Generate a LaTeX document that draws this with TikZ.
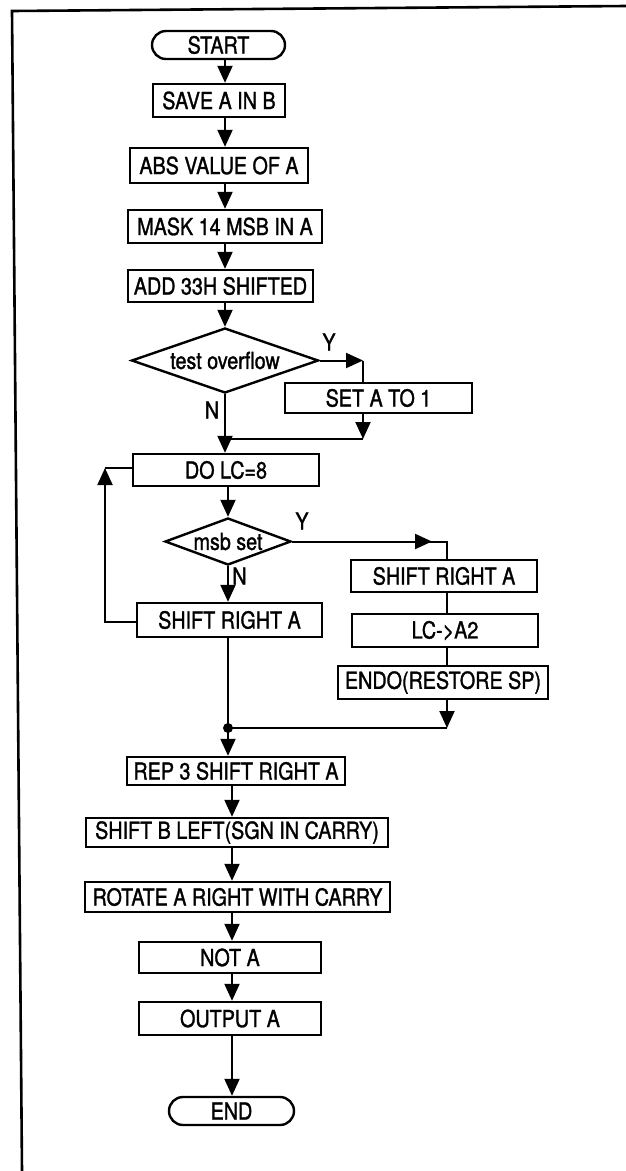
\documentclass[tikz,border=0pt]{standalone}
\usepackage{fontspec}
\setmainfont[FakeStretch=0.84, FakeBold=1.3]{TeX Gyre Heros}
\usepackage{tikz}
\usetikzlibrary{shapes.geometric, arrows.meta, positioning, calc}
\newcommand\flowfont{\fontsize{23.5}{26}\selectfont}
\tikzset{
  box/.style={draw, line width=2.4pt, inner sep=0pt, font=\flowfont},
  term/.style={box, rounded corners=14pt},
  decision/.style={draw, diamond, line width=2.4pt, inner sep=0pt, font=\flowfont},
  lbl/.style={font=\flowfont, inner sep=0pt},
  wire/.style={line width=2pt},
  arr/.style={line width=2pt, -{Triangle[length=17pt,width=15pt]}},
  frame/.style={line width=2.6pt}
}

\begin{document}
\begin{tikzpicture}[x=1pt, y=-1pt]
        \useasboundingbox (0,0) rectangle (626,1171);
        % Frame (only top and left edges show)
        \draw[frame] (22,1171) -- (12,11) -- (626,6);
        % Column lines
        \coordinate (colA) at (225,0);
        \coordinate (colB) at (228,0);
        \coordinate (colC) at (232,0);
        % Main chain
        \node[term, minimum width=133, minimum height=28] (start) at (218.5,45) {START};
        \node[box, minimum width=132, minimum height=33] (save) at (219,100.5) {SAVE A IN B};
        \node[box, minimum width=178, minimum height=35] (abs) at (219,165.5) {ABS VALUE OF A};
        \node[box, minimum width=194, minimum height=33] (mask) at (225,226.5) {MASK 14 MSB IN A};
        \node[box, minimum width=185, minimum height=32] (add) at (220.5,286) {ADD 33H SHIFTED};
        \node[decision, aspect=2.88, minimum width=187, minimum height=65] (ovf) at (225,360.5) {test overflow};
        \node[box, minimum width=187, minimum height=30] (setone) at (378.5,398) {SET A TO 1};
        \node[box, minimum width=186, minimum height=32] (doloop) at (226,470) {DO LC=8};
        \node[decision, aspect=2.68, minimum width=126, minimum height=47] (msb) at (228,541.5) {msb set};
        \node[box, minimum width=185, minimum height=34] (shl) at (229.5,620) {SHIFT RIGHT A};
        % Y branch of the loop
        \node[box, minimum width=186, minimum height=32] (shr) at (444,576) {SHIFT RIGHT A};
        \node[box, minimum width=186, minimum height=33] (lca) at (445,630.5) {LC->A2};
        \node[box, minimum width=210, minimum height=33] (endo) at (443,682.5) {ENDO(RESTORE SP)};
        % Tail
        \node[box, minimum width=218, minimum height=28] (rep) at (236,771) {REP 3 SHIFT RIGHT A};
        \node[box, minimum width=302, minimum height=29] (shb) at (237,832.5) {SHIFT B LEFT(SGN IN CARRY)};
        \node[box, minimum width=305, minimum height=30] (rot) at (237.5,897) {ROTATE A RIGHT WITH CARRY};
        \node[box, minimum width=182, minimum height=31] (nota) at (230,957.5) {NOT A};
        \node[box, minimum width=182, minimum height=33] (outa) at (230,1018.5) {OUTPUT A};
        \node[term, minimum width=125, minimum height=28] (endn) at (231.5,1111) {END};
        % Branch labels
        \node[lbl] (yes1) at (329,342) {Y};
        \node[lbl] (no1) at (212,410) {N};
        \node[lbl] (yes2) at (302,521) {Y};
        \node[lbl] (no2) at (239.5,576) {N};
        % Straight arrows
        \foreach \a/\b in {start/save, save/abs, abs/mask, mask/add}
          \draw[arr] (\a.south -| colA) -- (\b.north -| colA);
        \draw[arr] (add.south -| colA) -- (ovf.north);
        % Overflow branch
        \coordinate (yturn) at (363,360.5);
        \coordinate (merge1) at (363,439);
        \draw[arr] (ovf.east) -- (yturn);
        \draw[wire] (yturn) -- (setone.north -| yturn);
        \draw[arr] (setone.south -| yturn) -- (merge1);
        \draw[wire] (merge1) -- (merge1 -| ovf.south);
        \draw[arr] (ovf.south) -- (doloop.north -| ovf.south);
        % Loop body
        \draw[arr] (doloop.south -| msb.north) -- (msb.north);
        \draw[arr] (msb.south) -- (shl.north -| msb.south);
        \coordinate (loopbot) at (105,622);
        \coordinate (looptop) at (105,468);
        \draw[arr] (shl.west |- loopbot) -- (loopbot) -- (looptop);
        \draw[wire] (looptop) -- (doloop.west |- looptop);
        % msb set branch
        \coordinate (ytip) at (432,541.5);
        \coordinate (yturn2) at (447,541.5);
        \draw[wire] (msb.east) -- (yturn2) -- (shr.north -| yturn2);
        \draw[arr] (msb.east) -- (ytip);
        \draw[wire] (shr.south -| yturn2) -- (lca.north -| yturn2);
        \draw[wire] (lca.south -| yturn2) -- (endo.north -| yturn2);
        \coordinate (merge2) at (447,728);
        \coordinate (dot) at (228,728);
        \draw[arr] (endo.south -| yturn2) -- (merge2);
        \draw[wire] (merge2) -- (dot);
        \draw[wire] (shl.south -| colB) -- (dot);
        \fill (dot) circle (5pt);
        \draw[arr] (dot) -- (rep.north -| colB);
        % Tail arrows
        \foreach \a/\b in {rep/shb, shb/rot, rot/nota, nota/outa, outa/endn}
          \draw[arr] (\a.south -| colC) -- (\b.north -| colC);
      \end{tikzpicture}
\end{document}
